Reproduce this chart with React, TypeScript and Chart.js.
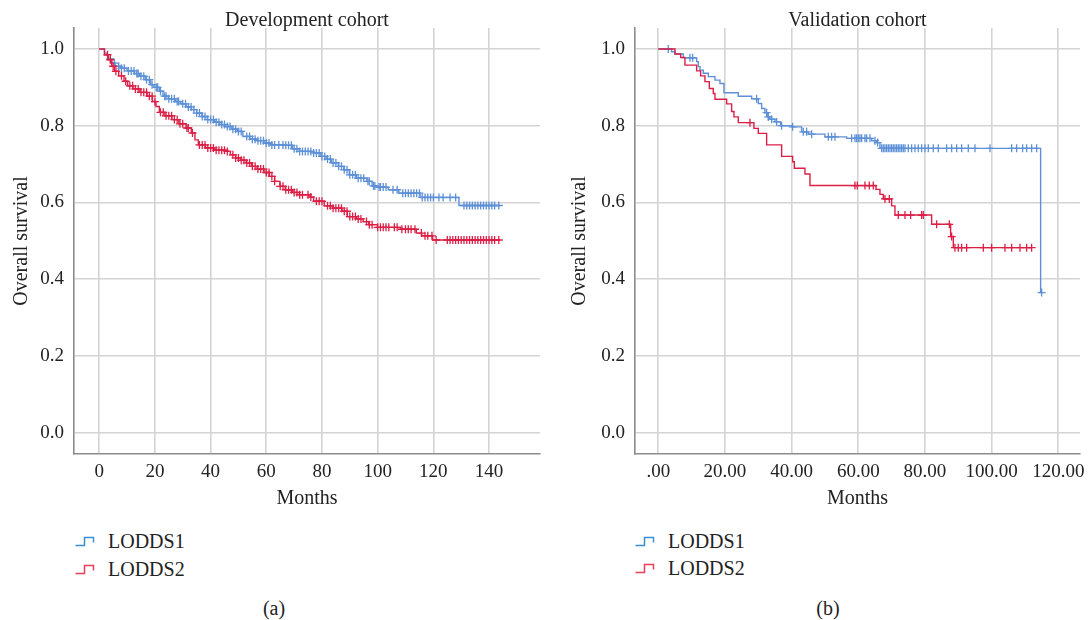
import { useEffect, useRef } from "react";
import { Chart, registerables } from "chart.js";

Chart.register(...registerables);

const FONT = '"Liberation Serif", "Times New Roman", serif';
const TEXT = "#222222";
const BLUE = "#5d90d6";
const RED = "#dc1f45";
const BLUE_ICON = "#3b8ed8";
const RED_ICON = "#e8405a";

// ---------- Development cohort ----------
const devTicksX = [0, 20, 40, 60, 80, 100, 120, 140];
const devLodds1Months = [0, 1.9, 2.5, 3.2, 4.5, 5.7, 7.6, 10, 12.7, 14.6, 16.5, 18.5, 19.7, 21.6, 22.9, 24.8, 27.4, 29.3, 31.2, 33.1, 35, 36.9, 38.8, 41.4, 43.3, 45.2, 47.7, 49.6, 51.6, 54.1, 56.7, 59.2, 61.7, 66.8, 69.4, 71.9, 77, 79.6, 81.5, 83.4, 85.9, 87.8, 89.8, 92.3, 96.1, 98, 99.9, 103.8, 107.6, 115.2, 129.2, 143.9];
const devLodds1Surv = [1, 0.99, 0.985, 0.974, 0.963, 0.955, 0.95, 0.943, 0.936, 0.929, 0.92, 0.907, 0.9, 0.89, 0.877, 0.87, 0.863, 0.857, 0.849, 0.842, 0.833, 0.824, 0.816, 0.809, 0.803, 0.798, 0.791, 0.785, 0.772, 0.765, 0.761, 0.755, 0.75, 0.749, 0.74, 0.733, 0.729, 0.72, 0.713, 0.703, 0.694, 0.685, 0.672, 0.663, 0.655, 0.643, 0.64, 0.633, 0.624, 0.613, 0.592, 0.592];
const devLodds1Censored = [4, 5.5, 7, 8, 9, 10.5, 11.5, 12.5, 13.5, 14, 15, 16, 17, 18, 19, 20.5, 21, 22, 23.5, 24, 25, 26, 27, 28, 28.5, 30, 31, 32, 33, 34, 35, 36, 37, 38, 39, 40, 41, 42, 43, 44, 45, 46, 47, 48, 49, 50, 51, 53, 54, 55, 56, 57, 58, 59, 60, 61, 62, 63, 64.5, 66, 67, 68, 69, 70, 71, 72, 73, 74, 75, 76, 77, 78, 79, 80, 81, 82, 83, 84, 85, 86, 87, 88, 89, 90, 91, 92, 93, 94, 95, 96.5, 97, 98.5, 99, 100.5, 101, 102, 103, 105.5, 107, 109, 110, 111, 112, 113, 114, 115, 116, 117, 118, 119, 120, 122, 123.5, 126, 128, 131, 132, 133, 134, 135, 136, 137, 138, 139, 140, 141, 142, 143.5];
const devLodds2Months = [0, 1.9, 3.2, 4.5, 5.5, 7, 8.9, 10.2, 12.1, 14.6, 17.2, 19.1, 20.4, 21.6, 23.6, 26.1, 28.6, 31.2, 33.1, 34.4, 35.6, 38.2, 41.4, 45.2, 47.1, 49, 50.9, 52.8, 54.7, 56.7, 59.2, 61.1, 63, 64.9, 66.8, 69.4, 71.9, 75.7, 77, 80.8, 84, 87.2, 89.1, 92.3, 94.8, 96.8, 99.9, 108.2, 113.9, 115.8, 119.7, 143.9];
const devLodds2Surv = [1, 0.985, 0.972, 0.955, 0.942, 0.93, 0.916, 0.904, 0.896, 0.887, 0.877, 0.863, 0.85, 0.835, 0.826, 0.816, 0.805, 0.794, 0.781, 0.763, 0.75, 0.742, 0.736, 0.733, 0.724, 0.716, 0.71, 0.703, 0.694, 0.687, 0.678, 0.668, 0.655, 0.642, 0.633, 0.626, 0.62, 0.614, 0.603, 0.591, 0.585, 0.577, 0.563, 0.557, 0.55, 0.542, 0.535, 0.53, 0.52, 0.513, 0.502, 0.502];
const devLodds2Censored = [3, 4, 5, 6, 8, 9.5, 11, 12, 13, 14, 15, 16, 17, 18, 19, 20, 22, 23, 24, 25, 26, 27, 28, 29, 30, 31.5, 32, 33.5, 36, 37, 38, 39, 40, 41, 42, 43, 44, 45, 46, 48, 49, 50, 51, 52, 53, 54, 55, 56, 57, 58, 59, 60, 61, 62, 63, 65, 66, 67, 68, 69, 70, 71, 72, 73, 75, 76, 78, 79, 80, 82, 83, 84, 85, 86, 87, 88, 89, 90, 91, 92, 93, 94, 96, 97, 98, 100, 101, 102, 103, 104, 106, 107, 108.7, 110, 111, 112, 113.4, 115.7, 117, 118, 119.5, 121, 125, 126, 127, 128, 129, 130, 131, 132, 133, 134, 135, 136, 137, 138, 139, 140, 141, 142, 143.5];

// ---------- Validation cohort ----------
const valTicksX = [0, 20, 40, 60, 80, 100, 120];
const valLodds1Months = [0, 4, 5, 7.5, 11.5, 12, 12.5, 13.5, 15, 17, 18.5, 19.7, 24, 28, 30, 31, 32, 32.7, 33.5, 35, 36.7, 40, 43, 45, 50, 56.5, 64, 65.5, 66.5, 114.7, 115];
const valLodds1Surv = [1, 0.993, 0.987, 0.977, 0.967, 0.954, 0.945, 0.937, 0.928, 0.919, 0.91, 0.886, 0.877, 0.87, 0.858, 0.845, 0.834, 0.823, 0.817, 0.81, 0.8, 0.797, 0.784, 0.778, 0.771, 0.767, 0.761, 0.756, 0.741, 0.365, 0.365];
const valLodds1Censored = [3, 9.5, 10.3, 29.5, 32.5, 33, 34, 35.5, 37, 40.3, 43.5, 44.5, 46, 51, 52, 53, 58, 59, 59.5, 60, 60.5, 61, 62, 62.5, 63.5, 65, 65.8, 67, 67.5, 68, 68.5, 69, 69.5, 70, 70.5, 71, 71.5, 72, 72.5, 73, 73.5, 74, 75, 76, 77, 78, 79, 80, 81, 82.5, 84, 86.5, 88, 89.5, 91, 93, 95, 99.5, 106, 107.5, 109.3, 110.5, 112, 113.5, 115];
const valLodds2Months = [0, 5, 6.7, 8, 11.5, 12.7, 14, 15.3, 16.5, 17, 20.5, 22, 22.7, 24, 28.7, 30, 32.5, 37, 40.3, 40.8, 44, 45.5, 65.3, 66.5, 67.5, 70, 71, 82, 87.7, 88.5, 112];
const valLodds2Surv = [1, 0.987, 0.978, 0.958, 0.943, 0.93, 0.915, 0.897, 0.884, 0.869, 0.857, 0.837, 0.823, 0.808, 0.793, 0.78, 0.75, 0.72, 0.706, 0.689, 0.674, 0.644, 0.634, 0.621, 0.609, 0.591, 0.567, 0.543, 0.511, 0.482, 0.482];
const valLodds2Censored = [27.5, 59, 59.7, 62, 63.3, 64.5, 68, 69.3, 72, 74, 75.7, 79, 79.5, 83.5, 87.3, 88, 89, 90, 91, 92.5, 97.5, 100, 104, 106, 108.5, 110.5, 112];

const ticksY = [0, 0.2, 0.4, 0.6, 0.8, 1.0];
const seriesNames = ["LODDS1", "LODDS2"];

function survivalAt(months: number[], surv: number[], t: number): number {
  let v = surv[0];
  for (let i = 0; i < months.length; i++) {
    if (months[i] <= t) v = surv[i];
  }
  return v;
}

function stepPoints(months: number[], surv: number[]) {
  return months.map((m, i) => ({ x: m, y: surv[i] }));
}

function censorPoints(months: number[], surv: number[], cens: number[]) {
  return cens.map((c) => ({ x: c, y: survivalAt(months, surv, c) }));
}

const titlePlugin = {
  id: "panelTitle",
  afterDraw(chart: any, _args: any, opts: any) {
    const { ctx, chartArea } = chart;
    ctx.save();
    ctx.font = `20px ${FONT}`;
    ctx.fillStyle = TEXT;
    ctx.textAlign = "center";
    ctx.textBaseline = "middle";
    ctx.fillText(opts.text, (chartArea.left + chartArea.right) / 2, opts.y);
    ctx.restore();
  },
};

type PanelSpec = {
  title: string;
  m1: number[]; s1: number[]; c1: number[];
  m2: number[]; s2: number[]; c2: number[];
  xTicks: number[];
  xMin: number; xMax: number;
  xFmt: (v: number) => string;
  yWidth: number;
  yTitlePad: number;
  padRight: number;
};

function buildChart(canvas: HTMLCanvasElement, p: PanelSpec) {
  const lineDs = (label: string, data: any[], color: string) => ({
    type: "line" as const,
    label,
    data,
    stepped: true,
    borderColor: color,
    borderWidth: 1.4,
    pointRadius: 0,
    fill: false,
    showLine: true,
  });
  const censDs = (label: string, data: any[], color: string) => ({
    type: "scatter" as const,
    label,
    data,
    pointStyle: "cross",
    pointRadius: 4,
    pointBorderWidth: 1.3,
    borderColor: color,
    backgroundColor: color,
    showLine: false,
  });
  return new Chart(canvas, {
    type: "scatter",
    data: {
      datasets: [
        lineDs(seriesNames[1], stepPoints(p.m2, p.s2), RED),
        censDs(seriesNames[1] + " censored", censorPoints(p.m2, p.s2, p.c2), RED),
        lineDs(seriesNames[0], stepPoints(p.m1, p.s1), BLUE),
        censDs(seriesNames[0] + " censored", censorPoints(p.m1, p.s1, p.c1), BLUE),
      ] as any,
    },
    options: {
      responsive: false,
      animation: false,
      layout: { padding: { top: 28, left: 0, right: p.padRight, bottom: 0 } },
      plugins: {
        legend: { display: false },
        tooltip: { enabled: false },
        panelTitle: { text: p.title, y: 20.5 },
      } as any,
      scales: {
        x: {
          type: "linear",
          min: p.xMin,
          max: p.xMax,
          afterBuildTicks: (s: any) => {
            s.ticks = p.xTicks.map((v) => ({ value: v }));
          },
          afterFit: (s: any) => {
            s.height = 58;
          },
          ticks: {
            callback: (v: any) => p.xFmt(Number(v)),
            font: { family: FONT, size: 19 },
            color: TEXT,
            padding: 7,
            maxRotation: 0,
            autoSkip: false,
          },
          grid: { color: "#d4d4d4", lineWidth: 1.6, drawTicks: false },
          border: { color: "#8c8c8c", width: 1.6 },
          title: {
            display: true,
            text: "Months",
            font: { family: FONT, size: 20 },
            color: TEXT,
            padding: { top: 0, bottom: 1 },
          },
        },
        y: {
          type: "linear",
          min: -0.056,
          max: 1.0548,
          afterBuildTicks: (s: any) => {
            s.ticks = ticksY.map((v) => ({ value: v }));
          },
          afterFit: (s: any) => {
            s.width = p.yWidth;
          },
          ticks: {
            callback: (v: any) => Number(v).toFixed(1),
            font: { family: FONT, size: 19 },
            color: TEXT,
            padding: 10,
            autoSkip: false,
          },
          grid: { color: "#d4d4d4", lineWidth: 1.6, drawTicks: false },
          border: { color: "#8c8c8c", width: 1.6 },
          title: {
            display: true,
            text: "Overall survival",
            font: { family: FONT, size: 20 },
            color: TEXT,
            padding: { top: p.yTitlePad, bottom: 0 },
          },
        },
      },
    } as any,
    plugins: [titlePlugin],
  });
}

function StepIcon({ color }: { color: string }) {
  return (
    <svg width="20" height="11" style={{ display: "block" }}>
      <polyline points="0.5,9.5 9.5,9.5 9.5,1.5 18.5,1.5 18.5,6.5" fill="none" stroke={color} strokeWidth="1.5" />
    </svg>
  );
}

function LegendRow({ x, y, textX, color, label }: { x: number; y: number; textX: number; color: string; label: string }) {
  return (
    <>
      <div style={{ position: "absolute", left: x, top: y - 5, width: 20, height: 11 }}>
        <StepIcon color={color} />
      </div>
      <div style={{ position: "absolute", left: textX, top: y - 12, fontSize: 20, lineHeight: "24px", whiteSpace: "nowrap" }}>{label}</div>
    </>
  );
}

export default function App() {
  const leftRef = useRef<HTMLCanvasElement>(null);
  const rightRef = useRef<HTMLCanvasElement>(null);

  useEffect(() => {
    const left = buildChart(leftRef.current!, {
      title: "Development cohort",
      m1: devLodds1Months, s1: devLodds1Surv, c1: devLodds1Censored,
      m2: devLodds2Months, s2: devLodds2Surv, c2: devLodds2Censored,
      xTicks: devTicksX,
      xMin: -9.05, xMax: 158.3,
      xFmt: (v) => String(v),
      yWidth: 74,
      yTitlePad: 9.6,
      padRight: 6,
    });
    const right = buildChart(rightRef.current!, {
      title: "Validation cohort",
      m1: valLodds1Months, s1: valLodds1Surv, c1: valLodds1Censored,
      m2: valLodds2Months, s2: valLodds2Surv, c2: valLodds2Censored,
      xTicks: valTicksX,
      xMin: -6.99, xMax: 126.5,
      xFmt: (v) => (v === 0 ? ".00" : v.toFixed(2)),
      yWidth: 89,
      yTitlePad: 21.6,
      padRight: 12,
    });
    return () => {
      left.destroy();
      right.destroy();
    };
  }, []);

  return (
    <div style={{ position: "absolute", left: 0, top: 0, width: 1092, height: 620, background: "#ffffff", fontFamily: FONT, color: TEXT, overflow: "hidden" }}>
      <canvas ref={leftRef} width={546} height={512} style={{ position: "absolute", left: 0, top: 0, width: 546, height: 512 }} />
      <canvas ref={rightRef} width={546} height={512} style={{ position: "absolute", left: 546, top: 0, width: 546, height: 512 }} />
      <LegendRow x={75} y={541} textX={108} color={BLUE_ICON} label={seriesNames[0]} />
      <LegendRow x={75} y={569} textX={108} color={RED_ICON} label={seriesNames[1]} />
      <LegendRow x={635} y={541} textX={668} color={BLUE_ICON} label={seriesNames[0]} />
      <LegendRow x={635} y={568} textX={668} color={RED_ICON} label={seriesNames[1]} />
      <div style={{ position: "absolute", left: 224, width: 100, top: 596, textAlign: "center", fontSize: 20, lineHeight: "24px" }}>(a)</div>
      <div style={{ position: "absolute", left: 778, width: 100, top: 596, textAlign: "center", fontSize: 20, lineHeight: "24px" }}>(b)</div>
    </div>
  );
}
